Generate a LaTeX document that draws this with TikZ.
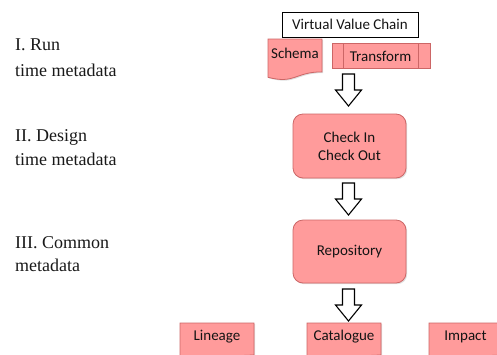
\documentclass[tikz,border=0pt]{standalone}
\usepackage{fontspec}
\usetikzlibrary{shadows}
\setmainfont{Liberation Serif}
\newfontfamily\calibri{Carlito}

\definecolor{boxfill}{HTML}{FF9B9B}
\definecolor{boxline}{HTML}{CC6666}

\tikzset{
  pinkshape/.style={draw=boxline, fill=boxfill, line width=0.8pt,
    drop shadow={opacity=0.25, shadow xshift=1.2pt, shadow yshift=-1.2pt}},
  rowlabel/.style={font=\fontsize{18}{22}\selectfont, anchor=base west, inner sep=0pt, text=black!90},
  boxtext/.style={font=\calibri\fontsize{15}{18}\selectfont, inner sep=0pt, text=black!92},
  blockarrow/.pic={
    \draw[line width=1.1pt, fill=white, line join=miter]
      (-6,0) -- (6,0) -- (6,16) -- (13,16) -- (0,32) -- (-13,16) -- (-6,16) -- cycle;
  }
}

% flowchart "document" outline: left, top, right, height
\newcommand\docoutline[4]{%
  \path[pinkshape] (#1,#2) -- (#3,#2) -- (#3,{#2+0.802*#4})
    .. controls ({(#1+#3)/2},{#2+0.802*#4}) and ({(#1+#3)/2},{#2+1.107*#4}) ..
    (#1,{#2+0.934*#4}) -- cycle;}

\begin{document}
\begin{tikzpicture}[x=1pt, y=-1pt]
\useasboundingbox (0,0) rectangle (497,354);
\clip (0,0) rectangle (497,354);

% row labels
\node[rowlabel] (runA) at (15,50.5) {I. Run};
\node[rowlabel] (runB) at (15,76) {time metadata};
\node[rowlabel] (desA) at (15,141.5) {II. Design};
\node[rowlabel] (desB) at (15,165) {time metadata};
\node[rowlabel] (comA) at (15,248) {III. Common};
\node[rowlabel] (comB) at (15,271) {metadata};

% virtual value chain header
\draw[line width=0.9pt, fill=white] (282,12) rectangle (418,37);
\node[boxtext] (vvc) at (350,24.5) {Virtual Value Chain};

% schema document and transform process
\docoutline{268}{39}{322}{41}
\node[boxtext] (schema) at (295,53) {Schema};
\path[pinkshape] (332,43) rectangle (430,68);
\draw[boxline, line width=0.8pt] (343,43) -- (343,68) (418,43) -- (418,68);
\node[boxtext] (xform) at (380.5,56) {Transform};

% check in / check out
\path[pinkshape, rounded corners=10pt] (293,114) rectangle (406,178);
\node[boxtext, align=center] (check) at (349.5,146) {Check In\\Check Out};

% repository
\path[pinkshape, rounded corners=10pt] (293,220) rectangle (406,283);
\node[boxtext] (repo) at (349.5,251.5) {Repository};

% downward block arrows
\pic (arrA) at (348.5,74) {blockarrow};
\pic (arrB) at (348.5,183) {blockarrow};
\pic (arrC) at (348.5,289) {blockarrow};

% outputs
\docoutline{180}{323}{254}{40}
\node[boxtext] (lineage) at (217,337) {Lineage};
\docoutline{307}{323}{381}{40}
\node[boxtext] (catalogue) at (344,337) {Catalogue};
\docoutline{429}{323}{502}{40}
\node[boxtext] (impact) at (465.5,337) {Impact};
\end{tikzpicture}
\end{document}
